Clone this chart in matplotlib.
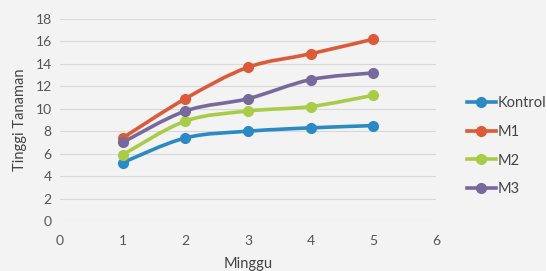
import matplotlib
matplotlib.use("Agg")
import matplotlib.pyplot as plt
from matplotlib.path import Path
from matplotlib.patches import PathPatch
from matplotlib.lines import Line2D

plt.rcParams["font.family"] = ["Lato", "DejaVu Sans"]

weeks = [1, 2, 3, 4, 5]
kontrol = [5.2, 7.4, 8.0, 8.3, 8.5]
m1 = [7.4, 10.9, 13.7, 14.9, 16.2]
m2 = [5.9, 8.9, 9.8, 10.2, 11.2]
m3 = [7.0, 9.8, 10.9, 12.6, 13.2]
names = ["Kontrol", "M1", "M2", "M3"]
colors = ["#2b8ac3", "#dc5a38", "#a9cc48", "#76699c"]
series = [kontrol, m1, m2, m3]


def smooth_path(xs, ys, t=1 / 6):
    # Excel-style smoothed line: cubic Bezier segments through the points
    verts = [(xs[0], ys[0])]
    codes = [Path.MOVETO]
    n = len(xs)
    for i in range(n - 1):
        x0, y0 = xs[max(i - 1, 0)], ys[max(i - 1, 0)]
        x1, y1 = xs[i], ys[i]
        x2, y2 = xs[i + 1], ys[i + 1]
        x3, y3 = xs[min(i + 2, n - 1)], ys[min(i + 2, n - 1)]
        c1 = (x1 + (x2 - x0) * t, y1 + (y2 - y0) * t)
        c2 = (x2 - (x3 - x1) * t, y2 - (y3 - y1) * t)
        verts += [c1, c2, (x2, y2)]
        codes += [Path.CURVE4] * 3
    return Path(verts, codes)


fig = plt.figure(figsize=(5.46, 2.71), dpi=100)
fig.patch.set_facecolor("#f3f3f3")
ax = fig.add_axes([60 / 546, 1 - 221 / 271, 376 / 546, 202 / 271])
ax.set_facecolor("#f3f3f3")

for ys, c in zip(series, colors):
    ax.add_patch(PathPatch(smooth_path(weeks, ys), fill=False,
                           edgecolor=c, lw=2.6, capstyle="round", zorder=3))
    ax.plot(weeks, ys, ls="none", marker="o", ms=7, color=c, zorder=4)

ax.set_xlim(0, 6)
ax.set_ylim(0, 18)
ax.set_xticks(range(0, 7))
ax.set_yticks(range(0, 19, 2))
ax.grid(axis="y", color="#d8d8d8", lw=0.8)
ax.set_axisbelow(True)
for s in ax.spines.values():
    s.set_visible(False)
ax.tick_params(length=0, labelsize=10, colors="#555555", pad=10)
ax.tick_params(axis="y", pad=6)
ax.set_xlabel("Minggu", fontsize=10.5, color="#444444", labelpad=7)
ax.set_ylabel("Tinggi Tanaman", fontsize=10.5, color="#444444", labelpad=6)

handles = [Line2D([], [], color=c, lw=2.6, marker="o", ms=7) for c in colors]
fig.legend(handles, names, loc="upper left", bbox_to_anchor=(461 / 546, 1 - 90 / 271),
           frameon=False, fontsize=10.5, labelcolor="#444444", handlelength=2.0,
           handletextpad=0.1, labelspacing=1.02, borderaxespad=0)

fig.savefig("out.png", dpi=100, facecolor=fig.get_facecolor())
